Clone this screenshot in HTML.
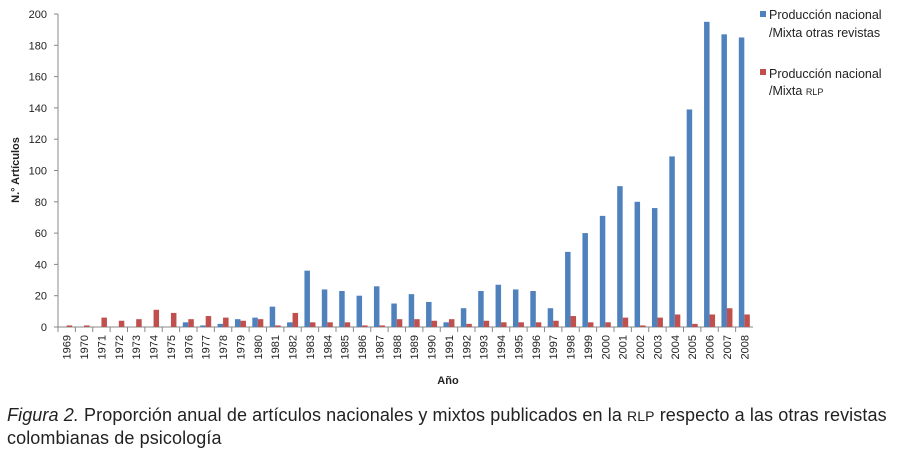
<!DOCTYPE html>
<html><head><meta charset="utf-8"><style>
body{margin:0;background:#fff;width:909px;height:455px;overflow:hidden;font-family:"Liberation Sans",sans-serif}
svg{position:absolute;left:0;top:0}
.cap{position:absolute;left:7px;top:404px;font-size:18px;line-height:22px;color:#222;width:902px;letter-spacing:0.1px}
</style></head><body>
<svg id="chart" width="909" height="400"></svg>
<div class="cap"><i>Figura 2.</i> Proporción anual de artículos nacionales y mixtos publicados en la <span style="font-size:14px">RLP</span> respecto a las otras revistas colombianas de psicología</div>
<script>
const years=[1969,1970,1971,1972,1973,1974,1975,1976,1977,1978,1979,1980,1981,1982,1983,1984,1985,1986,1987,1988,1989,1990,1991,1992,1993,1994,1995,1996,1997,1998,1999,2000,2001,2002,2003,2004,2005,2006,2007,2008];
const otrasValues=[0,0,0,0,0,0,0,3,1,2,5,6,13,3,36,24,23,20,26,15,21,16,3,12,23,27,24,23,12,48,60,71,90,80,76,109,139,195,187,185];
const rlpValues=[1,1,6,4,5,11,9,5,7,6,4,5,1,9,3,3,3,1,1,5,5,4,5,2,4,3,3,3,4,7,3,3,6,1,6,8,2,8,12,8];
const yTicks=[0,20,40,60,80,100,120,140,160,180,200];
const NS="http://www.w3.org/2000/svg";
const svg=document.getElementById('chart');
const L=58,R=753,T=14,B=327,yMax=200;
const step=(R-L)/years.length;
const y=v=>B-(v/yMax)*(B-T);
const xc=i=>L+step*(i+0.5);
function mk(tag,attrs,txt){const e=document.createElementNS(NS,tag);for(const k in attrs)e.setAttribute(k,attrs[k]);if(txt!==undefined)e.textContent=txt;svg.appendChild(e);return e;}
yTicks.forEach(t=>{
  const tl=mk('line',{x1:L-4,x2:L,y1:y(t),y2:y(t),stroke:'#888'});
  
  
  const tx=mk('text',{x:L-11,y:y(t)+4,'text-anchor':'end','font-size':11,fill:'#222'},t);
  
  
});
const ya=mk('line',{x1:L,x2:L,y1:T,y2:B,stroke:'#888'});


const xa=mk('line',{x1:L,x2:R,y1:B,y2:B,stroke:'#888'});


years.forEach((yr,i)=>{
  const tk=mk('line',{x1:L+step*i,x2:L+step*i,y1:B,y2:B+5,stroke:'#888'});
  
  
  const c=xc(i);
  const b1=mk('rect',{x:c-5.5,y:y(otrasValues[i]),width:5.5,height:B-y(otrasValues[i]),fill:'#4f81bd'});
  
  
  const b2=mk('rect',{x:c,y:y(rlpValues[i]),width:5.5,height:B-y(rlpValues[i]),fill:'#c0504d'});
  
  
  const lb=mk('text',{x:0,y:0,'text-anchor':'end','font-size':11,fill:'#222',transform:`translate(${c+4},${B+8}) rotate(-90)`},yr);
  
  
});
const xt=mk('text',{x:448,y:384,'text-anchor':'middle','font-size':11,'font-weight':'bold',fill:'#222'},'Año');


const yt=mk('text',{x:0,y:0,'text-anchor':'middle','font-size':11,'font-weight':'bold',fill:'#222',transform:'translate(19,170) rotate(-90)'},'N.° Artículos');


const l1=mk('rect',{x:760,y:11,width:6,height:6,fill:'#4f81bd'});


const l1t=mk('text',{x:769,y:19,'font-size':12.5,fill:'#222'},'Producción nacional');


mk('text',{x:769,y:37,'font-size':12.5,fill:'#222'},'/Mixta otras revistas');
const l2=mk('rect',{x:760,y:69,width:6,height:6,fill:'#c0504d'});


const l2t=mk('text',{x:769,y:78,'font-size':12.5,fill:'#222'},'Producción nacional');


const l2b=mk('text',{x:769,y:95,'font-size':12.5,fill:'#222'},'/Mixta ');
const ts=document.createElementNS(NS,'tspan');ts.setAttribute('font-size','9');ts.textContent='RLP';l2b.appendChild(ts);
</script>
</body></html>
